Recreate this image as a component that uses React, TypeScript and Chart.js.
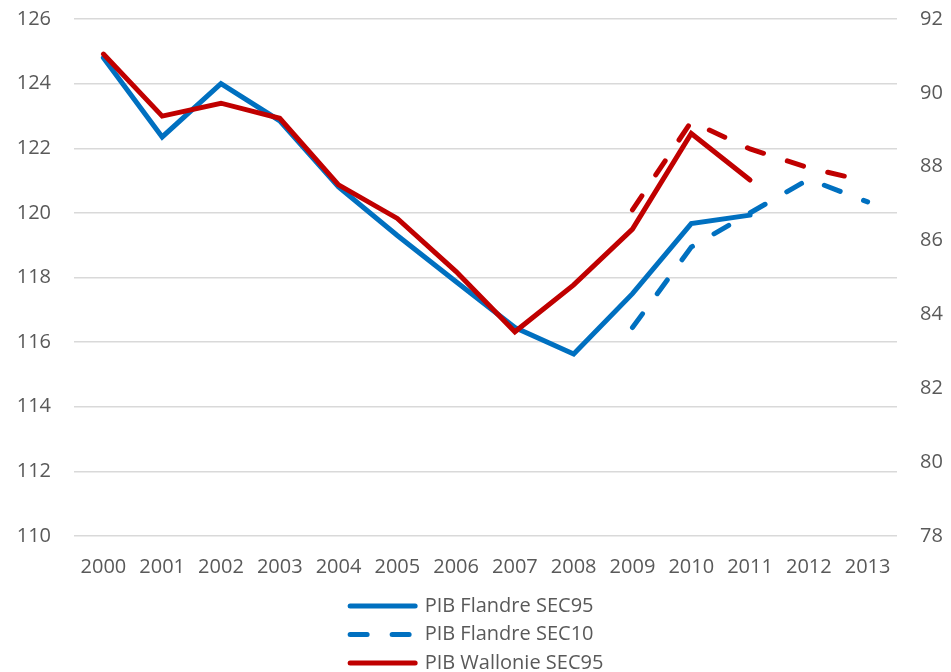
import React, { useEffect, useRef } from "react";
import { Chart, registerables } from "chart.js";

Chart.register(...registerables);

const years = ["2000", "2001", "2002", "2003", "2004", "2005", "2006", "2007", "2008", "2009", "2010", "2011", "2012", "2013"];

const flandreSec95 = [124.8, 122.35, 124.0, 122.85, 120.8, 119.3, 117.87, 116.45, 115.63, 117.5, 119.67, 119.93, null, null];
const flandreSec10 = [null, null, null, null, null, null, null, null, null, 116.45, 118.94, 120.0, 121.04, 120.34];
const wallonieSec95 = [91.05, 89.37, 89.72, 89.31, 87.51, 86.6, 85.16, 83.53, 84.8, 86.31, 88.9, 87.64, null, null];
const wallonieSec10 = [null, null, null, null, null, null, null, null, null, 86.83, 89.22, 88.48, 87.97, 87.6];

const seriesLabels = ["PIB Flandre SEC95", "PIB Flandre SEC10", "PIB Wallonie SEC95", "PIB Wallonie SEC10"];

const leftTicks = { min: 110, max: 126, step: 2 };
const rightTicks = { min: 78, max: 92, step: 2 };

const BLUE = "#0070C0";
const RED = "#C00000";
const TEXT = "#595959";
const FONT = "'Open Sans', 'DejaVu Sans', sans-serif";
const DASH = [17, 25];

const legendPlugin = {
  id: "stackedLegend",
  afterDraw(chart: any) {
    const ctx = chart.ctx;
    const datasets = chart.data.datasets;
    ctx.save();
    ctx.font = `20px ${FONT}`;
    let maxW = 0;
    datasets.forEach((d: any) => {
      maxW = Math.max(maxW, ctx.measureText(d.label).width);
    });
    const sample = 70;
    const gap = 7;
    const blockW = sample + gap + maxW;
    const left = (chart.width - blockW) / 2;
    const startY = 606;
    const rowH = 28.5;
    datasets.forEach((d: any, i: number) => {
      const y = startY + i * rowH;
      ctx.beginPath();
      ctx.lineWidth = 5;
      ctx.lineCap = "round";
      ctx.strokeStyle = d.borderColor;
      ctx.setLineDash(d.borderDash || []);
      ctx.moveTo(left + 2.5, y);
      ctx.lineTo(left + sample - 2.5, y);
      ctx.stroke();
      ctx.setLineDash([]);
      ctx.fillStyle = TEXT;
      ctx.textAlign = "left";
      ctx.textBaseline = "middle";
      ctx.fillText(d.label, left + sample + gap, y);
    });
    ctx.restore();
  },
};

export default function App() {
  const canvasRef = useRef<HTMLCanvasElement | null>(null);

  useEffect(() => {
    if (!canvasRef.current) return;
    Chart.defaults.font.family = FONT;
    const common = {
      borderWidth: 5,
      pointRadius: 0,
      pointHoverRadius: 0,
      fill: false,
      tension: 0,
      spanGaps: false,
      borderCapStyle: "round" as const,
      borderJoinStyle: "miter" as const,
    };
    const chart = new Chart(canvasRef.current, {
      type: "line",
      data: {
        labels: years,
        datasets: [
          { ...common, label: seriesLabels[0], data: flandreSec95, borderColor: BLUE, backgroundColor: BLUE, yAxisID: "y", order: 1 },
          { ...common, label: seriesLabels[1], data: flandreSec10, borderColor: BLUE, backgroundColor: BLUE, borderDash: DASH, yAxisID: "y", order: 1 },
          { ...common, label: seriesLabels[2], data: wallonieSec95, borderColor: RED, backgroundColor: RED, yAxisID: "y1", order: 0 },
          { ...common, label: seriesLabels[3], data: wallonieSec10, borderColor: RED, backgroundColor: RED, borderDash: DASH, yAxisID: "y1", order: 0 },
        ],
      },
      options: {
        responsive: false,
        animation: false,
        events: [],
        layout: { padding: { top: 19, left: 0, right: 0, bottom: 74 } },
        plugins: { legend: { display: false }, tooltip: { enabled: false } },
        scales: {
          x: {
            offset: true,
            grid: { display: false, drawTicks: false },
            border: { display: false },
            ticks: { color: TEXT, font: { size: 20, family: FONT }, padding: 19, maxRotation: 0, autoSkip: false },
          },
          y: {
            position: "left",
            min: leftTicks.min,
            max: leftTicks.max,
            grid: { color: "#d9d9d9", lineWidth: 1.5, drawTicks: true, tickLength: 23, tickColor: "rgba(0,0,0,0)" },
            border: { display: false },
            ticks: { stepSize: leftTicks.step, color: TEXT, font: { size: 20, family: FONT }, padding: 0 },
            afterFit: (scale: any) => { scale.width = 74; },
          },
          y1: {
            position: "right",
            min: rightTicks.min,
            max: rightTicks.max,
            grid: { display: true, drawOnChartArea: false, drawTicks: true, tickLength: 23, tickColor: "rgba(0,0,0,0)" },
            border: { display: false },
            ticks: { stepSize: rightTicks.step, color: TEXT, font: { size: 20, family: FONT }, padding: 0 },
            afterFit: (scale: any) => { scale.width = 54; },
          },
        },
      },
      plugins: [legendPlugin],
    });
    return () => chart.destroy();
  }, []);

  return (
    <div style={{ position: "fixed", left: 0, top: 0, width: 951, height: 672, overflow: "hidden", background: "#ffffff" }}>
      <canvas ref={canvasRef} width={951} height={672} style={{ display: "block", width: 951, height: 672 }} />
    </div>
  );
}
